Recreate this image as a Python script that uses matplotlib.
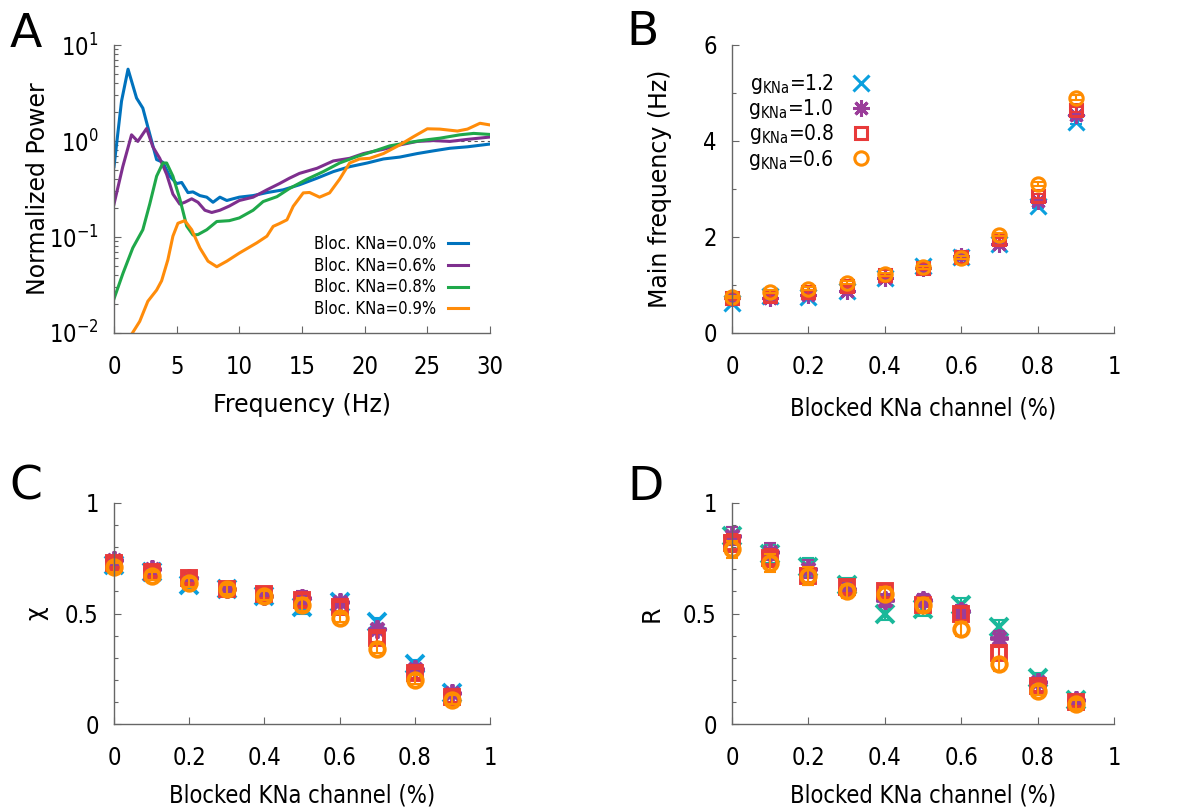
import numpy as np
import matplotlib
matplotlib.use("Agg")
import matplotlib.pyplot as plt
from matplotlib.ticker import MultipleLocator, LogLocator, NullFormatter

plt.rcParams['font.family'] = ['DejaVu Sans']
plt.rcParams['mathtext.default'] = 'regular'

# ---------------- Panel A data: normalized power spectra ----------------
freq_00 = [0, 0.6, 1.12, 1.8, 2.3, 2.7, 3.4, 3.9, 4.45, 5.0, 5.4, 5.9, 6.3, 6.85, 7.4, 7.9, 8.45,
           9.0, 9.5, 10.0, 11.1, 12.2, 13.5, 14.8, 16.2, 17.5, 18.8, 20.2, 21.5, 22.8, 24.2,
           25.5, 26.8, 28.2, 30.0]
pow_00 = [0.54, 2.6, 5.6, 2.8, 2.2, 1.4, 0.64, 0.6, 0.43, 0.36, 0.37, 0.29, 0.295, 0.27, 0.26,
          0.23, 0.26, 0.24, 0.25, 0.26, 0.27, 0.29, 0.31, 0.35, 0.41, 0.48, 0.54, 0.59, 0.65,
          0.68, 0.74, 0.79, 0.84, 0.87, 0.93]

freq_06 = [0, 0.7, 1.4, 1.9, 2.6, 3.1, 3.65, 4.2, 4.7, 5.25, 5.65, 6.2, 6.7, 7.25, 7.8, 8.45,
           9.2, 10.0, 11.1, 12.2, 13.2, 14.0, 14.8, 16.2, 17.5, 18.8, 19.9, 21.5, 22.8, 24.2,
           25.5, 26.8, 28.2, 30.0]
pow_06 = [0.22, 0.54, 1.16, 0.99, 1.35, 0.87, 0.66, 0.45, 0.28, 0.22, 0.23, 0.25, 0.23, 0.19,
          0.18, 0.19, 0.21, 0.24, 0.26, 0.31, 0.36, 0.41, 0.46, 0.52, 0.62, 0.66, 0.74, 0.82,
          0.91, 0.99, 1.01, 0.99, 1.04, 1.10]

freq_08 = [0, 0.72, 1.5, 2.3, 2.85, 3.4, 3.9, 4.2, 4.7, 5.25, 5.8, 6.3, 6.7, 7.4, 8.2, 9.2,
           10.0, 11.1, 11.9, 13.0, 14.0, 15.4, 16.7, 18.0, 19.4, 20.7, 22.0, 23.4, 24.7, 26.0,
           27.6, 28.7, 30.0]
pow_08 = [0.0227, 0.042, 0.077, 0.119, 0.22, 0.43, 0.59, 0.59, 0.43, 0.25, 0.13, 0.105, 0.106,
          0.119, 0.145, 0.148, 0.158, 0.19, 0.234, 0.263, 0.32, 0.40, 0.48, 0.59, 0.69, 0.78,
          0.89, 0.96, 1.02, 1.07, 1.16, 1.20, 1.17]

freq_09 = [1.47, 2.05, 2.7, 3.4, 3.8, 4.3, 4.7, 5.1, 5.65, 6.2, 6.85, 7.5, 8.2, 9.0, 10.0,
           11.4, 12.2, 12.7, 13.2, 13.8, 14.3, 15.1, 15.6, 16.4, 17.2, 18.0, 18.8, 19.6, 20.4,
           21.5, 22.8, 23.9, 25.0, 26.0, 27.4, 28.2, 29.2, 30.0]
pow_09 = [0.010, 0.0132, 0.0214, 0.028, 0.035, 0.058, 0.102, 0.139, 0.148, 0.119, 0.077, 0.056,
          0.049, 0.056, 0.068, 0.087, 0.102, 0.129, 0.138, 0.151, 0.209, 0.288, 0.291, 0.26,
          0.288, 0.40, 0.59, 0.65, 0.66, 0.74, 0.91, 1.11, 1.34, 1.33, 1.27, 1.33, 1.53, 1.47]

spectra_labels = ['Bloc. KNa=0.0%', 'Bloc. KNa=0.6%', 'Bloc. KNa=0.8%', 'Bloc. KNa=0.9%']
spectra_colors = ['#0072bd', '#7e2f8e', '#1fa84a', '#ff8c0a']

# ---------------- Panels B, C, D data ----------------
blocked = [0.0, 0.1, 0.2, 0.3, 0.4, 0.5, 0.6, 0.7, 0.8, 0.9]
g_labels = [r'g$_{KNa}$=1.2', r'g$_{KNa}$=1.0', r'g$_{KNa}$=0.8', r'g$_{KNa}$=0.6']

# B: main frequency (Hz)
freq_g12 = [0.62, 0.78, 0.75, 0.88, 1.15, 1.40, 1.58, 1.85, 2.65, 4.40]
freq_g10 = [0.72, 0.72, 0.80, 0.88, 1.15, 1.35, 1.60, 1.85, 2.75, 4.55]
freq_g08 = [0.72, 0.78, 0.85, 0.98, 1.20, 1.35, 1.58, 1.95, 2.85, 4.65]
freq_g06 = [0.75, 0.86, 0.92, 1.05, 1.22, 1.37, 1.57, 2.05, 3.10, 4.90]
freq_err = [0.03, 0.03, 0.03, 0.03, 0.03, 0.03, 0.03, 0.03, 0.04, 0.05]

# C: chi
chi_g12 = [0.72, 0.69, 0.63, 0.61, 0.58, 0.53, 0.55, 0.46, 0.27, 0.14]
chi_g10 = [0.74, 0.70, 0.66, 0.61, 0.58, 0.57, 0.55, 0.43, 0.25, 0.14]
chi_g08 = [0.73, 0.69, 0.66, 0.61, 0.59, 0.56, 0.53, 0.39, 0.23, 0.12]
chi_g06 = [0.71, 0.67, 0.64, 0.61, 0.58, 0.54, 0.48, 0.34, 0.20, 0.11]
chi_err = [0.02, 0.02, 0.02, 0.02, 0.02, 0.03, 0.02, 0.02, 0.02, 0.02]

# D: R
r_g12 = [0.85, 0.77, 0.71, 0.63, 0.50, 0.52, 0.54, 0.44, 0.21, 0.11]
r_g10 = [0.85, 0.78, 0.70, 0.61, 0.56, 0.56, 0.51, 0.39, 0.19, 0.11]
r_g08 = [0.82, 0.75, 0.67, 0.62, 0.60, 0.54, 0.50, 0.32, 0.17, 0.10]
r_g06 = [0.79, 0.73, 0.67, 0.60, 0.59, 0.54, 0.43, 0.27, 0.15, 0.09]
r_err = [0.04, 0.04, 0.04, 0.03, 0.03, 0.03, 0.03, 0.03, 0.02, 0.02]

markers = ['x', (8, 2, 0), 's', 'o']
colors_BC = ['#0aa0de', '#9b3d9a', '#e83a3a', '#ff8c00']
colors_D = ['#1ab89a', '#9b3d9a', '#e83a3a', '#ff8c00']

# ---------------- Figure ----------------
W, H = 1189, 809
fig = plt.figure(figsize=(W / 100, H / 100), dpi=100)

def rect(l, t, r, b):
    return [l / W, 1 - b / H, (r - l) / W, (b - t) / H]

spine_col = '#666666'
COND = 'condensed'

def style(ax):
    for s in ['top', 'right']:
        ax.spines[s].set_visible(False)
    for s in ['left', 'bottom']:
        ax.spines[s].set_color(spine_col)
        ax.spines[s].set_linewidth(1.0)
    ax.tick_params(which='both', direction='in', colors=spine_col, labelcolor='black',
                   labelsize=17)
    ax.tick_params(axis='x', which='both', pad=15.5)
    ax.tick_params(axis='y', which='both', pad=11)
    ax.tick_params(which='major', length=5, width=0.8)
    ax.tick_params(which='minor', length=3, width=0.8)

def fix_ticks(ax):
    for t in ax.get_xticklabels() + ax.get_yticklabels():
        t.set_fontstretch(COND)

# Panel A
axA = fig.add_axes(rect(114, 45, 490, 333))
style(axA)
for f, p, lab, c in zip([freq_00, freq_06, freq_08, freq_09],
                        [pow_00, pow_06, pow_08, pow_09], spectra_labels, spectra_colors):
    axA.plot(f, p, color=c, lw=2.2, label=lab, solid_joinstyle='round')
axA.axhline(1.0, color='#555555', lw=0.8, ls=(0, (3, 3)), zorder=0)
axA.set_yscale('log')
axA.set_xlim(0, 30)
axA.set_ylim(1e-2, 1e1)
axA.set_xticks([0, 5, 10, 15, 20, 25, 30])
axA.set_yticks([1e-2, 1e-1, 1e0, 1e1])
axA.set_yticklabels([r'10$^{-2}$', r'10$^{-1}$', r'10$^{0}$', r'10$^{1}$'])
axA.yaxis.set_minor_locator(LogLocator(base=10, subs=np.arange(2, 10)))
axA.yaxis.set_minor_formatter(NullFormatter())
fix_ticks(axA)
axA.set_xlabel('Frequency (Hz)', fontsize=17)
axA.set_ylabel('Normalized Power', fontsize=17)
axA.xaxis.set_label_coords(0.5, -0.21)
axA.yaxis.set_label_coords(-0.17, 0.5)
legA = axA.legend(loc='lower right', bbox_to_anchor=(468 / W, 1 - 318 / H),
                  bbox_transform=fig.transFigure, frameon=False, markerfirst=False,
                  prop={'size': 12, 'stretch': COND},
                  handlelength=1.2, handletextpad=0.7, labelspacing=0.22,
                  borderpad=0, borderaxespad=0)

def scatter_panel(ax, ys, err, cols, ms, mew):
    for y, m, c, lab in zip(ys, markers, cols, g_labels):
        if m == 's':
            msz = ms * 0.75
        elif m == 'o':
            msz = ms * 0.8
        else:
            msz = ms
        ax.errorbar(blocked, y, yerr=err, fmt='none', ecolor=c, elinewidth=1.5, capsize=4,
                    capthick=1.5, clip_on=False)
        ax.plot(blocked, y, linestyle='none', marker=m, color=c, ms=msz, mew=mew,
                mfc='none', label=lab, clip_on=False)
    ax.set_xlim(0, 1)
    ax.set_xticks([0, 0.2, 0.4, 0.6, 0.8, 1.0])
    ax.set_xticklabels(['0', '0.2', '0.4', '0.6', '0.8', '1'])

# Panel B
axB = fig.add_axes(rect(732, 45, 1114, 333))
style(axB)
scatter_panel(axB, [freq_g12, freq_g10, freq_g08, freq_g06], freq_err, colors_BC, 12, 2.2)
axB.set_ylim(0, 6)
axB.set_yticks([0, 2, 4, 6])
axB.yaxis.set_minor_locator(MultipleLocator(1))
fix_ticks(axB)
axB.set_xlabel('Blocked KNa channel (%)', fontsize=17, fontstretch=COND)
axB.set_ylabel('Main frequency (Hz)', fontsize=17)
axB.xaxis.set_label_coords(0.5, -0.22)
axB.yaxis.set_label_coords(-0.157, 0.5)
handles, labels = axB.get_legend_handles_labels()
legB = axB.legend(handles, labels, loc='upper left', bbox_to_anchor=(748 / W, 1 - 72 / H),
                  bbox_transform=fig.transFigure, frameon=False, markerfirst=False,
                  prop={'size': 15, 'stretch': COND},
                  handlelength=1.0, handletextpad=0.8, labelspacing=0.06,
                  borderpad=0, borderaxespad=0)

# Panel C
axC = fig.add_axes(rect(114, 503, 490, 724))
style(axC)
scatter_panel(axC, [chi_g12, chi_g10, chi_g08, chi_g06], chi_err, colors_BC, 13, 2.8)
axC.set_ylim(0, 1)
axC.set_yticks([0, 0.5, 1])
axC.set_yticklabels(['0', '0.5', '1'])
axC.yaxis.set_minor_locator(MultipleLocator(0.1))
fix_ticks(axC)
axC.set_xlabel('Blocked KNa channel (%)', fontsize=17, fontstretch=COND)
axC.set_ylabel('χ', fontsize=17)
axC.xaxis.set_label_coords(0.5, -0.27)
axC.yaxis.set_label_coords(-0.175, 0.5)

# Panel D
axD = fig.add_axes(rect(732, 503, 1114, 724))
style(axD)
scatter_panel(axD, [r_g12, r_g10, r_g08, r_g06], r_err, colors_D, 13, 2.8)
axD.set_ylim(0, 1)
axD.set_yticks([0, 0.5, 1])
axD.set_yticklabels(['0', '0.5', '1'])
axD.yaxis.set_minor_locator(MultipleLocator(0.1))
fix_ticks(axD)
axD.set_xlabel('Blocked KNa channel (%)', fontsize=17, fontstretch=COND)
axD.set_ylabel('R', fontsize=17)
axD.xaxis.set_label_coords(0.5, -0.27)
axD.yaxis.set_label_coords(-0.18, 0.5)

# Panel letters
for letter, x, y in [('A', 10, 47), ('B', 626, 45), ('C', 9, 500), ('D', 627, 500)]:
    fig.text(x / W, 1 - y / H, letter, fontsize=34, ha='left', va='baseline')

fig.savefig('out.png', dpi=100)
